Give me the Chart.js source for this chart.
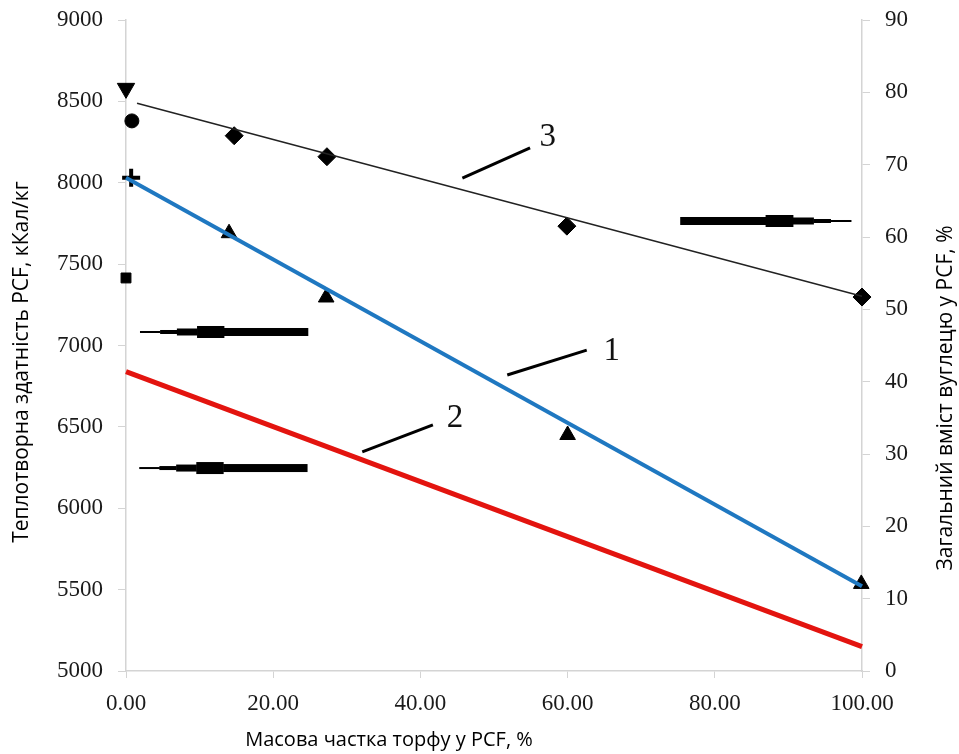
<!DOCTYPE html>
<html>
<head>
<meta charset="utf-8">
<script src="https://cdn.jsdelivr.net/npm/chart.js@4/dist/chart.umd.min.js"></script>
<style>
  html, body { margin: 0; padding: 0; background: #fff; }
  canvas { display: block; }
</style>
</head>
<body>
<canvas id="chart" width="959" height="754"></canvas>
<script>
// trend lines (x = peat share, %)
const trendX = [0, 100];
const line1 = [8030, 5520];          // 1 - heat value, left axis
const line2 = [6840, 5150];          // 2 - left axis
const line3X = [1.5, 100];
const line3 = [78.5, 51.8];          // 3 - carbon content, right axis

// measured points
const triX = [14.0, 27.2, 60.0, 99.9];
const triY = [7690, 7295, 6450, 5535];
const diaX = [14.7, 27.3, 59.9, 100];
const diaY = [74.0, 71.1, 61.5, 51.7];

// single points at 0 %
const downX = [0], downY = [8580];
const circX = [0.8], circY = [8380];
const plusX = [0.7], plusY = [8030];
const sqX = [0], sqY = [7415];

// tick labels
const xTicks = [0, 20, 40, 60, 80, 100];

// curve numbers and leader lines (data units, left axis)
const labelText = ['1', '2', '3'];
const labelX = [66.0, 44.7, 57.3];
const labelY = [6966, 6555, 8281];
const leadX1 = [51.8, 32.1, 45.7], leadY1 = [6819, 6346, 8029];
const leadX2 = [62.6, 41.7, 54.9], leadY2 = [6972, 6512, 8214];

// axis arrows (data units, left axis); dir -1 points left, 1 points right
const arrowX1 = [1.9, 1.8, 75.3];
const arrowX2 = [24.7, 24.6, 98.5];
const arrowY = [7083, 6247, 7765];
const arrowDir = [-1, -1, 1];

const pts = (xs, ys) => xs.map((x, i) => ({ x: x, y: ys[i] }));

const annotations = {
  id: 'annotations',
  afterDatasetsDraw(chart) {
    const ctx = chart.ctx;
    const sx = chart.scales.x, sy = chart.scales.y;
    ctx.save();
    // leader lines and numbers
    ctx.strokeStyle = '#000';
    ctx.lineWidth = 3;
    ctx.fillStyle = '#111';
    ctx.font = '33px "Liberation Serif", serif';
    ctx.textAlign = 'center';
    ctx.textBaseline = 'middle';
    labelText.forEach((t, i) => {
      ctx.beginPath();
      ctx.moveTo(sx.getPixelForValue(leadX1[i]), sy.getPixelForValue(leadY1[i]));
      ctx.lineTo(sx.getPixelForValue(leadX2[i]), sy.getPixelForValue(leadY2[i]));
      ctx.stroke();
      ctx.fillText(t, sx.getPixelForValue(labelX[i]), sy.getPixelForValue(labelY[i]));
    });
    // stepped arrows
    ctx.fillStyle = '#000';
    const steps = [[0, 0.12, 2], [0.12, 0.22, 4], [0.22, 0.34, 7], [0.34, 0.5, 12], [0.5, 1, 8]];
    arrowY.forEach((yv, i) => {
      const a = sx.getPixelForValue(arrowX1[i]);
      const b = sx.getPixelForValue(arrowX2[i]);
      const y = sy.getPixelForValue(yv);
      const len = b - a;
      steps.forEach(s => {
        let f0 = s[0], f1 = s[1];
        if (arrowDir[i] > 0) { f0 = 1 - s[1]; f1 = 1 - s[0]; }
        ctx.fillRect(a + f0 * len, y - s[2] / 2, (f1 - f0) * len + 0.5, s[2]);
      });
    });
    // axis titles
    ctx.fillStyle = '#000';
    ctx.textAlign = 'center';
    ctx.textBaseline = 'middle';
    ctx.font = '20px "Open Sans", sans-serif';
    ctx.fillText('Масова частка торфу у PCF, %', 389, 740);
    ctx.font = '21px "Open Sans", sans-serif';
    ctx.save();
    ctx.translate(22, 362);
    ctx.rotate(-Math.PI / 2);
    ctx.fillText('Теплотворна здатність PCF, кКал/кг', 0, 0);
    ctx.restore();
    ctx.save();
    ctx.translate(946, 398);
    ctx.rotate(-Math.PI / 2);
    ctx.fillText('Загальний вміст вуглецю у PCF, %', 0, 0);
    ctx.restore();
    ctx.restore();
  }
};

const axisColor = '#d4d4d4';
const tickFont = { family: '"Liberation Serif", serif', size: 23 };
const noPad = s => { s.paddingTop = 0; s.paddingBottom = 0; s.paddingLeft = 0; s.paddingRight = 0; };

new Chart(document.getElementById('chart'), {
  type: 'scatter',
  data: {
    datasets: [
      { data: pts(trendX, line1), showLine: true, borderColor: '#1f78c1', borderWidth: 4, pointRadius: 0, yAxisID: 'y' },
      { data: pts(trendX, line2), showLine: true, borderColor: '#e3140f', borderWidth: 5, pointRadius: 0, yAxisID: 'y' },
      { data: pts(line3X, line3), showLine: true, borderColor: '#222', borderWidth: 1.5, pointRadius: 0, yAxisID: 'y1' },
      { data: pts(triX, triY), pointStyle: 'triangle', pointRadius: 9, backgroundColor: '#000', borderColor: '#000', yAxisID: 'y' },
      { data: pts(diaX, diaY), pointStyle: 'rectRot', pointRadius: 9, backgroundColor: '#000', borderColor: '#000', yAxisID: 'y1' },
      { data: pts(downX, downY), pointStyle: 'triangle', rotation: 180, pointRadius: 10, backgroundColor: '#000', borderColor: '#000', yAxisID: 'y' },
      { data: pts(circX, circY), pointStyle: 'circle', pointRadius: 7, backgroundColor: '#000', borderColor: '#000', yAxisID: 'y' },
      { data: pts(plusX, plusY), pointStyle: 'cross', pointRadius: 9, borderWidth: 4, backgroundColor: '#000', borderColor: '#000', yAxisID: 'y' },
      { data: pts(sqX, sqY), pointStyle: 'rect', pointRadius: 7, backgroundColor: '#000', borderColor: '#000', yAxisID: 'y' }
    ]
  },
  options: {
    responsive: false,
    animation: false,
    clip: false,
    layout: { padding: { top: 20 } },
    plugins: { legend: { display: false }, tooltip: { enabled: false } },
    scales: {
      x: {
        type: 'linear', min: 0, max: 100,
        afterFit: s => { s.height = 83; noPad(s); },
        afterBuildTicks: s => { s.ticks = xTicks.map(v => ({ value: v })); },
        border: { color: axisColor, width: 1.5 },
        grid: { drawOnChartArea: false, color: axisColor, tickLength: 7 },
        ticks: { font: tickFont, color: '#1a1a1a', padding: 12, maxRotation: 0, callback: v => v.toFixed(2) }
      },
      y: {
        position: 'left', min: 5000, max: 9000,
        afterFit: s => { s.width = 126; noPad(s); },
        border: { color: axisColor, width: 1.5 },
        grid: { drawOnChartArea: false, color: axisColor, tickLength: 8 },
        ticks: { font: tickFont, color: '#1a1a1a', padding: 15, stepSize: 500, callback: v => String(v) }
      },
      y1: {
        position: 'right', min: 0, max: 90,
        afterFit: s => { s.width = 97; noPad(s); },
        border: { color: axisColor, width: 1.5 },
        grid: { drawOnChartArea: false, color: axisColor, tickLength: 8 },
        ticks: { font: tickFont, color: '#1a1a1a', padding: 15, stepSize: 10 }
      }
    }
  },
  plugins: [annotations]
});
</script>
</body>
</html>
